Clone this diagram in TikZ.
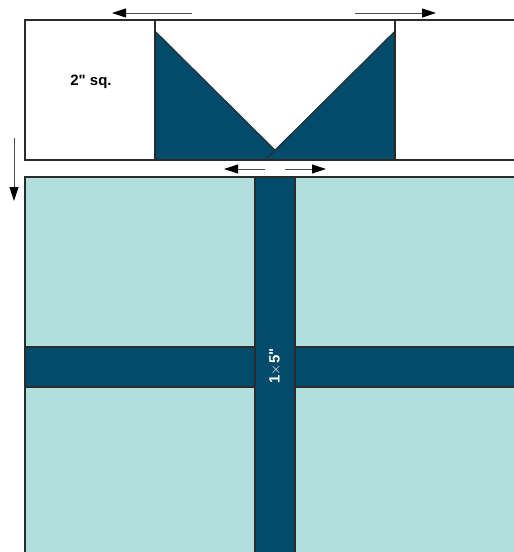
\documentclass[tikz,border=0pt]{standalone}
\usepackage{fontspec}
\setmainfont{Liberation Sans}
\usetikzlibrary{arrows.meta}
\definecolor{navy}{HTML}{034B6A}
\definecolor{aqua}{HTML}{B1DFDC}
\definecolor{edge}{HTML}{2B2B2B}

\begin{document}
\begin{tikzpicture}[x=1pt,y=-1pt,
  part/.style={draw=edge,line width=1.4pt},
  press/.style={draw=black!70,line width=0.9pt,-{Triangle[length=14pt,width=9pt,color=black]}},
  label/.style={font=\fontsize{15}{18}\selectfont\bfseries}]
\useasboundingbox (0,0) rectangle (514,552);
% the 2" strip with the two flying geese corners
\draw[part,fill=white] (25,20) rectangle (530,160);
\fill[navy,draw=edge,line width=1pt] (155,31) -- (285,160) -- (155,160) -- cycle;
\fill[navy,draw=edge,line width=1pt] (395,31) -- (265,160) -- (395,160) -- cycle;
\draw[part] (155,20) -- (155,160);
\draw[part] (395,20) -- (395,160);
\draw[part] (25,160) -- (530,160);
\node[label] (sq) at (91,82) {2\textquotedbl{} sq.};
% the block below
\draw[part,fill=aqua] (25,177) rectangle (530,570);
\draw[part,fill=navy] (25,347) rectangle (530,387);
\draw[part,fill=navy] (255,177) rectangle (295,570);
\node[text=white,rotate=90,font=\fontsize{15}{18}\selectfont\bfseries] (strip) at (275,366) {1$\times$5\textquotedbl};
% pressing directions
\coordinate (a1) at (192,13); \coordinate (b1) at (112,13);
\coordinate (a2) at (355,13); \coordinate (b2) at (436,13);
\coordinate (a3) at (265,169); \coordinate (b3) at (224,169);
\coordinate (a4) at (285,169); \coordinate (b4) at (326,169);
\coordinate (a5) at (14,138); \coordinate (b5) at (14,201);
\draw[press] (a1) -- (b1);
\draw[press] (a2) -- (b2);
\draw[press] (a3) -- (b3);
\draw[press] (a4) -- (b4);
\draw[press] (a5) -- (b5);
\end{tikzpicture}
\end{document}
